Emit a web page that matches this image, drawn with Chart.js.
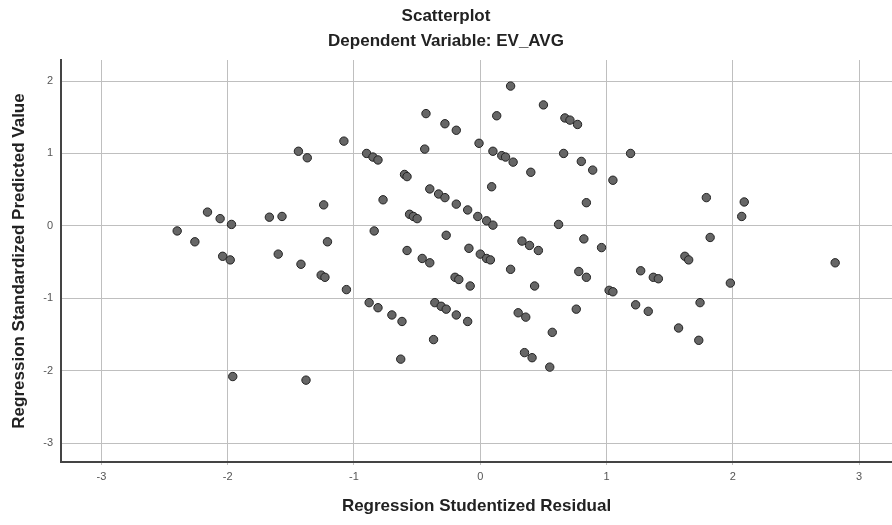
<!DOCTYPE html>
<html>
<head>
<meta charset="utf-8">
<title>Scatterplot</title>
<script src="https://cdn.jsdelivr.net/npm/chart.js@4.4.1/dist/chart.umd.min.js"></script>
<style>
  html, body { margin: 0; padding: 0; background: #fff; }
  #wrap { width: 892px; height: 525px; }
</style>
</head>
<body>
<div id="wrap"><canvas id="grafico" width="892" height="525"></canvas></div>
<script>
// ---- datos ----
const residuoX = [
  -1.08, -1.44, -1.37, -1.24, -2.16, -2.06, -1.97, -1.67, -1.57, -2.40,
  -2.26, -1.21, -2.04, -1.98, -1.60, -1.42, -1.26, -1.23, -1.06, -1.96,
  -1.38, 0.24, 0.50, 0.67, 0.71, 0.77, -0.43, 0.13, -0.28, -0.19,
  -0.01, -0.44, -0.90, -0.85, -0.81, 0.10, 0.17, 0.20, 0.26, 0.66,
  0.80, 0.89, 1.05, 0.40, -0.60, -0.58, 0.09, -0.77, -0.40, -0.33,
  -0.28, -0.19, -0.10, -0.02, 0.05, 0.10, 0.84, -0.56, -0.53, -0.50,
  -0.84, 0.62, -0.27, -0.58, 0.33, 0.39, 0.46, 0.82, 0.96, -0.09,
  0.00, 0.05, 0.08, -0.46, -0.40, 0.24, 0.78, -0.20, -0.17, -0.08,
  0.43, 0.84, 1.02, 1.05, -0.88, -0.81, -0.70, -0.62, -0.36, -0.31,
  -0.27, -0.19, -0.10, 0.30, 0.36, 0.76, 0.57, -0.37, -0.63, 0.35,
  0.41, 0.55, 1.19, 1.79, 2.09, 2.07, 1.82, 1.62, 1.65, 2.81,
  1.27, 1.37, 1.41, 1.98, 1.23, 1.33, 1.74, 1.57, 1.73
];
const predichoY = [
  1.17, 1.03, 0.94, 0.29, 0.19, 0.10, 0.02, 0.12, 0.13, -0.07,
  -0.22, -0.22, -0.42, -0.47, -0.39, -0.53, -0.68, -0.71, -0.88, -2.08,
  -2.13, 1.93, 1.67, 1.49, 1.46, 1.40, 1.55, 1.52, 1.41, 1.32,
  1.14, 1.06, 1.00, 0.95, 0.91, 1.03, 0.97, 0.95, 0.88, 1.00,
  0.89, 0.77, 0.63, 0.74, 0.71, 0.68, 0.54, 0.36, 0.51, 0.44,
  0.39, 0.30, 0.22, 0.13, 0.07, 0.01, 0.32, 0.16, 0.13, 0.10,
  -0.07, 0.02, -0.13, -0.34, -0.21, -0.27, -0.34, -0.18, -0.30, -0.31,
  -0.39, -0.45, -0.47, -0.45, -0.51, -0.60, -0.63, -0.71, -0.74, -0.83,
  -0.83, -0.71, -0.89, -0.91, -1.06, -1.13, -1.23, -1.32, -1.06, -1.11,
  -1.15, -1.23, -1.32, -1.20, -1.26, -1.15, -1.47, -1.57, -1.84, -1.75,
  -1.82, -1.95, 1.00, 0.39, 0.33, 0.13, -0.16, -0.42, -0.47, -0.51,
  -0.62, -0.71, -0.73, -0.79, -1.09, -1.18, -1.06, -1.41, -1.58
];
const rangoX = [-3.32, 3.26];
const rangoY = [-3.26, 2.29];

const puntos = residuoX.map((x, i) => ({ x: x, y: predichoY[i] }));
const fuente = "'Liberation Sans', Arial, sans-serif";

new Chart(document.getElementById("grafico"), {
  type: "scatter",
  data: {
    datasets: [{
      label: "EV_AVG",
      data: puntos,
      backgroundColor: "#666666",
      borderColor: "#222222",
      borderWidth: 1,
      pointRadius: 4.2,
      pointHoverRadius: 4.2
    }]
  },
  options: {
    responsive: false,
    animation: false,
    // sin margen extra: el area de datos llega al borde derecho
    layout: { padding: 0, autoPadding: false },
    plugins: {
      legend: { display: false },
      tooltip: { enabled: false },
      title: {
        display: true,
        text: "Scatterplot",
        color: "#222",
        font: { family: fuente, size: 17, weight: "bold" },
        padding: { top: 5.8, bottom: 0 }
      },
      subtitle: {
        display: true,
        text: "Dependent Variable: EV_AVG",
        color: "#222",
        font: { family: fuente, size: 17, weight: "bold" },
        padding: { top: 4.6, bottom: 8.8 }
      }
    },
    scales: {
      x: {
        type: "linear",
        min: rangoX[0],
        max: rangoX[1],
        afterFit: s => { s.height = 63; },
        ticks: { stepSize: 1, includeBounds: false, padding: 5, color: "#555",
                 font: { family: fuente, size: 11 } },
        grid: { color: "#bfbfbf", lineWidth: 1, tickLength: 3 },
        border: { display: true, color: "#444", width: 2 },
        title: {
          display: true,
          text: "Regression Studentized Residual",
          color: "#222",
          font: { family: fuente, size: 17, weight: "bold" },
          padding: { top: 0, bottom: 8.8 }
        }
      },
      y: {
        type: "linear",
        min: rangoY[0],
        max: rangoY[1],
        afterFit: s => { s.width = 61; },
        ticks: { stepSize: 1, includeBounds: false, padding: 8, color: "#555",
                 font: { family: fuente, size: 11 } },
        grid: { color: "#bfbfbf", lineWidth: 1, drawTicks: false },
        border: { display: true, color: "#444", width: 2 },
        title: {
          display: true,
          text: "Regression Standardized Predicted Value",
          color: "#222",
          font: { family: fuente, size: 17, weight: "bold" },
          padding: { top: 9.5, bottom: 0 }
        }
      }
    }
  }
});
</script>
</body>
</html>
